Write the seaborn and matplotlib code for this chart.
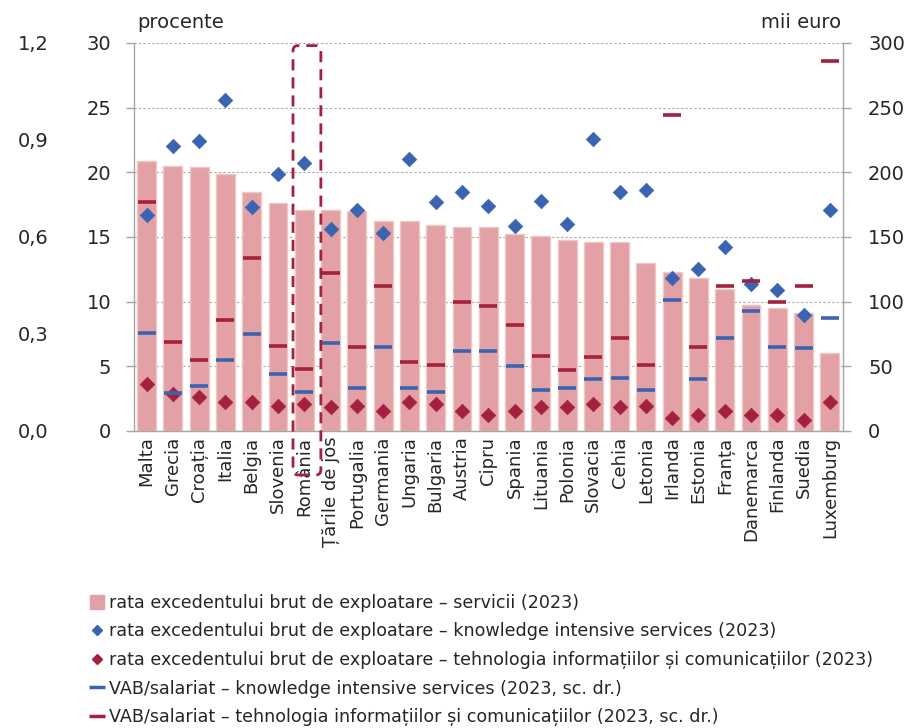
import matplotlib
matplotlib.use("Agg")
import matplotlib.pyplot as plt
import numpy as np
import pandas as pd
import seaborn as sns
from matplotlib.lines import Line2D
from matplotlib.patches import Patch, FancyBboxPatch

# data
countries = ["Malta", "Grecia", "Croația", "Italia", "Belgia", "Slovenia", "România",
             "Țările de jos", "Portugalia", "Germania", "Ungaria", "Bulgaria", "Austria",
             "Cipru", "Spania", "Lituania", "Polonia", "Slovacia", "Cehia", "Letonia",
             "Irlanda", "Estonia", "Franța", "Danemarca", "Finlanda", "Suedia", "Luxemburg"]
servicii = [20.9, 20.5, 20.4, 19.9, 18.5, 17.6, 17.1, 17.1, 17.0, 16.2, 16.2, 15.9, 15.75,
            15.75, 15.2, 15.05, 14.8, 14.65, 14.65, 12.97, 12.3, 11.86, 11.0, 9.77, 9.5, 9.1, 6.03]
kis = [16.7, 22.0, 22.4, 25.6, 17.3, 19.9, 20.7, 15.6, 17.1, 15.3, 21.0, 17.7, 18.5, 17.4,
       15.85, 17.8, 16.0, 22.55, 18.5, 18.66, 11.86, 12.55, 14.2, 11.4, 10.9, 8.95, 17.1]
ict = [3.6, 2.85, 2.65, 2.27, 2.27, 1.96, 2.1, 1.83, 1.96, 1.55, 2.24, 2.1, 1.55, 1.26,
       1.55, 1.83, 1.83, 2.1, 1.83, 1.96, 1.0, 1.26, 1.55, 1.26, 1.26, 0.85, 2.24]
vab_kis = [76, 29, 35, 55, 75, 44, 30, 68, 33, 65, 33, 30, 62, 62, 50, 32, 33, 40, 41, 32,
           101, 40, 72, 93, 65, 64, 87]
vab_ict = [177, 69, 55, 86, 134, 66, 48, 122, 65, 112, 53, 51, 100, 97, 82, 58, 47, 57, 72,
           51, 244, 65, 112, 116, 100, 112, 286]

left_ticks = [0, 5, 10, 15, 20, 25, 30]
right_ticks = [0, 50, 100, 150, 200, 250, 300]
far_ticks = [0.0, 0.3, 0.6, 0.9, 1.2]

labels = [
    "rata excedentului brut de exploatare – servicii (2023)",
    "rata excedentului brut de exploatare – knowledge intensive services (2023)",
    "rata excedentului brut de exploatare – tehnologia informațiilor și comunicațiilor (2023)",
    "VAB/salariat – knowledge intensive services (2023, sc. dr.)",
    "VAB/salariat – tehnologia informațiilor și comunicațiilor (2023, sc. dr.)",
]

PINK = "#e3a1a6"
BLUE = "#3a63b0"
RED = "#a3213f"
GRAY = "#a6a6a6"

sns.set_style("white")
plt.rcParams["font.family"] = ["DejaVu Sans"]

df = pd.DataFrame({"tara": countries, "servicii": servicii, "kis": kis, "ict": ict,
                   "vab_kis": vab_kis, "vab_ict": vab_ict})
df["pos"] = np.arange(len(df))

fig = plt.figure(figsize=(9.18, 7.28), dpi=100)
ax = fig.add_axes([133.5 / 918, 1 - 431 / 728, 709.5 / 918, 388 / 728])

sns.barplot(data=df, x="tara", y="servicii", color=PINK, saturation=1, width=0.72,
            edgecolor="#ecc9c4", linewidth=1, ax=ax, zorder=2)
sns.scatterplot(data=df, x="pos", y="kis", marker="D", s=55, color=BLUE,
                edgecolor=BLUE, linewidth=0.5, ax=ax, zorder=4)
sns.scatterplot(data=df, x="pos", y="ict", marker="D", s=55, color=RED,
                edgecolor=RED, linewidth=0.5, ax=ax, zorder=4)

ax.set_xlim(-0.5, len(df) - 0.5)
ax.set_ylim(0, 30)
ax.set_yticks(left_ticks)
ax.yaxis.grid(True, color=GRAY, linestyle=(0, (2, 2)), linewidth=0.8)
ax.set_axisbelow(True)
ax.set_xlabel("")
ax.set_ylabel("")
ax.set_xticks(np.arange(len(df)))
ax.set_xticklabels(countries, rotation=90, fontsize=13)
ax.set_xticks(np.arange(len(df) + 1) - 0.5, minor=True)
ax.tick_params(axis="x", which="major", length=0, pad=4)
ax.tick_params(axis="x", which="minor", length=6, color=GRAY, width=1, direction="out")
ax.tick_params(axis="y", length=6, color=GRAY, width=1, direction="out", pad=10,
               labelsize=14, left=True)
for side in ["top", "right"]:
    ax.spines[side].set_visible(False)
for side in ["left", "bottom"]:
    ax.spines[side].set_color(GRAY)
    ax.spines[side].set_linewidth(1)

# right axis (mii euro)
ax2 = ax.twinx()
sns.scatterplot(data=df, x="pos", y="vab_kis", marker="_", s=180, color=BLUE,
                linewidth=2.6, ax=ax2, zorder=4)
sns.scatterplot(data=df, x="pos", y="vab_ict", marker="_", s=180, color=RED,
                linewidth=2.6, ax=ax2, zorder=4)
ax2.set_ylim(0, 300)
ax2.set_yticks(right_ticks)
ax2.set_ylabel("")
ax2.tick_params(axis="y", length=6, color=GRAY, width=1, direction="out", pad=12,
                labelsize=14, right=True)
for side in ["top", "left", "bottom"]:
    ax2.spines[side].set_visible(False)
ax2.spines["right"].set_color(GRAY)
ax2.spines["right"].set_linewidth(1)

# far left axis (labels only)
ax3 = ax.twinx()
ax3.set_ylim(0, 1.2)
ax3.set_yticks(far_ticks)
ax3.set_yticklabels([f"{t:.1f}".replace(".", ",") for t in far_ticks])
ax3.yaxis.set_ticks_position("left")
ax3.yaxis.set_label_position("left")
ax3.spines["left"].set_position(("outward", 61))
for side in ["top", "left", "right", "bottom"]:
    ax3.spines[side].set_visible(False)
ax3.tick_params(axis="y", length=0, pad=0, labelsize=14)

# box around Romania (left-axis data coordinates)
box = FancyBboxPatch((5.57, -3.4), 1.06, 33.2,
                     boxstyle="round,pad=0,rounding_size=0.2", mutation_aspect=2.0,
                     facecolor="none", edgecolor=RED, linewidth=2,
                     linestyle=(0, (4, 2.5)), clip_on=False, zorder=6,
                     transform=ax.transData)
ax3.add_patch(box)

fig.text(137 / 918, 1 - 22 / 728, "procente", fontsize=14, va="center", ha="left")
fig.text(841 / 918, 1 - 22 / 728, "mii euro", fontsize=14, va="center", ha="right")

handles = [
    Patch(facecolor=PINK, edgecolor=PINK),
    Line2D([], [], linestyle="none", marker="D", markersize=5, color=BLUE),
    Line2D([], [], linestyle="none", marker="D", markersize=5, color=RED),
    Line2D([], [], linestyle="none", marker="_", markersize=11, markeredgewidth=2.5, color=BLUE),
    Line2D([], [], linestyle="none", marker="_", markersize=11, markeredgewidth=2.5, color=RED),
]
fig.legend(handles, labels, loc="upper left", bbox_to_anchor=(90 / 918, 1 - 594 / 728),
           frameon=False, fontsize=12.6, handlelength=0.8, handleheight=0.8,
           handletextpad=0.3, labelspacing=0.6, borderaxespad=0, borderpad=0)

fig.savefig("out.png", dpi=100)
